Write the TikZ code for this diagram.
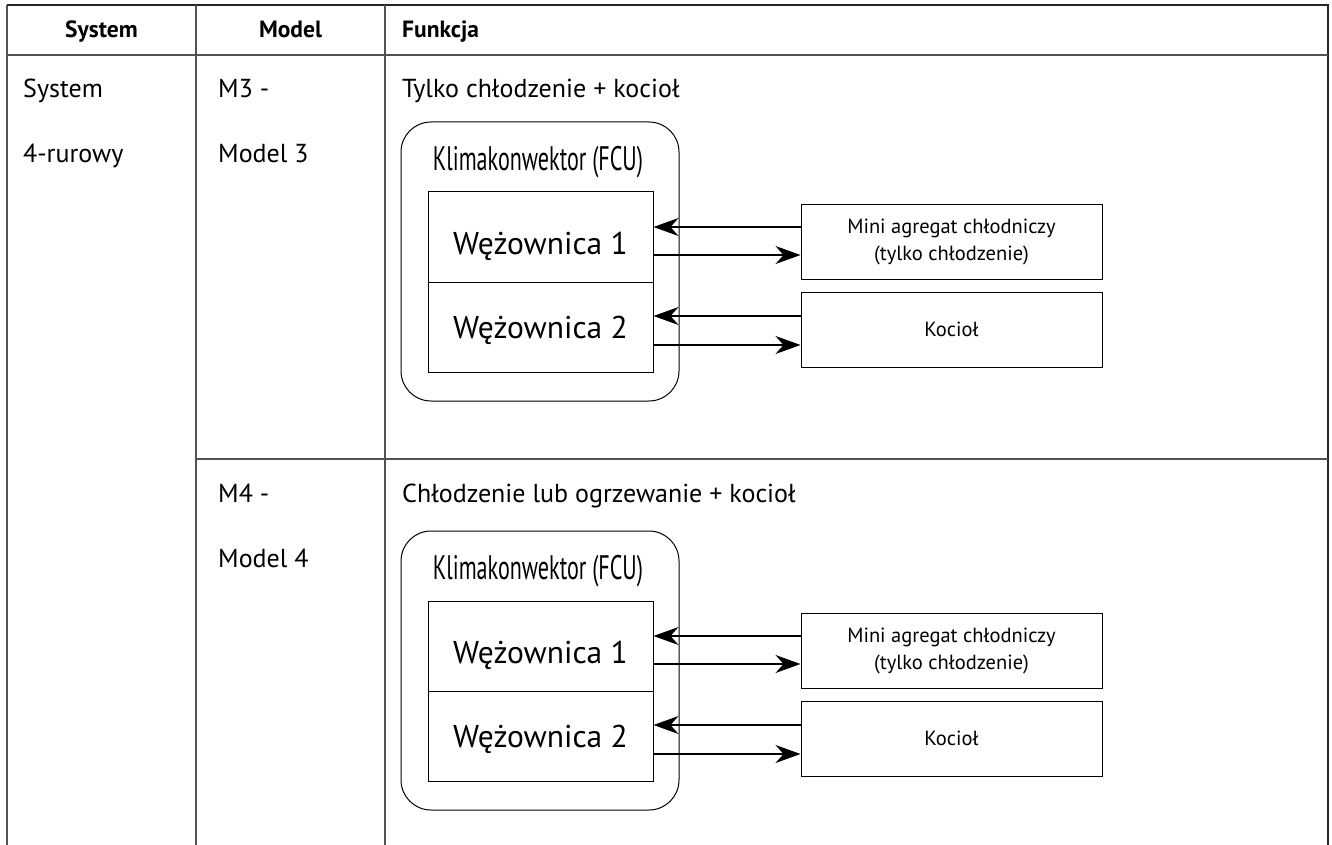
\documentclass[tikz,border=0pt]{standalone}
\usepackage{fontspec, graphicx}
\setmainfont{PT Sans}
\usetikzlibrary{arrows.meta}

\tikzset{
    grid/.style = {draw=black!68, line width=1.6pt},
    unit/.style = {draw, line width=1pt, inner sep=0pt},
    coil/.style = {unit, minimum width=225pt, minimum height=90pt, text depth=0pt, font=\fontsize{31.5}{32}\selectfont},
    pipe/.style = {line width=1.5pt, -{Stealth[length=25pt, width=18pt, inset=8pt]}},
    cell/.style = {anchor=base west, inner sep=0pt, font=\fontsize{26}{30}\selectfont},
    head/.style = {anchor=base, inner sep=0pt, font=\fontsize{23.5}{28}\selectfont\bfseries},
}

\begin{document}
\begin{tikzpicture}[x=1pt, y=-1pt]
    \useasboundingbox (0,0) rectangle (1332,845);
    % table
    \coordinate (TL) at (7,5);
    \coordinate (TR) at (1328,5);
    \draw [grid] (7,845) -- (TL);
    \draw [grid, draw=black!85] (TL) -- (TR) -- (1328,845);
    \draw [grid] (196,5) -- (196,845);
    \draw [grid] (385,5) -- (385,845);
    \draw [grid] (7,55) -- (1328,55);
    \draw [grid] (196,459) -- (1328,459);

    \node (hsys) at (101.5,38) [head] {System};
    \node (hmod) at (290.5,38) [head] {Model};
    \node (hfun) at (402,38) [head, anchor=base west] {Funkcja};

    \node (sys1) at (23,98) [cell] {System};
    \node (sys2) at (23,163) [cell] {4-rurowy};
    \node (m3a) at (218,98) [cell] {M3 -};
    \node (m3b) at (218,163) [cell] {Model 3};
    \node (f3) at (402,98) [cell] {Tylko chłodzenie + kocioł};
    \node (m4a) at (218,502) [cell] {M4 -};
    \node (m4b) at (218,567) [cell] {Model 4};
    \node (f4) at (402,502) [cell] {Chłodzenie lub ogrzewanie + kocioł};

    % both fan coil diagrams
    \foreach \dy/\n in {0/a, 409/b} {
        \begin{scope}[shift={(0,\dy)}]
            \node (fcu\n) at (540,261.5) [unit, rounded corners=30pt, minimum width=278pt, minimum height=279pt] {};
            \node (fcut\n) at (538,162) {\scalebox{0.65}[1]{\fontsize{34}{34}\selectfont Klimakonwektor (FCU)}};
            \node (coila\n) at (540.5,237) [coil, text height=34pt] {Wężownica 1};
            \node (coilb\n) at (540.5,327) [coil, text height=23pt] {Wężownica 2};
            \node (mini\n) at (951.5,241.5) [unit, minimum width=301pt, minimum height=75pt, align=center, font=\fontsize{20.5}{27}\selectfont] {Mini agregat chłodniczy\\(tylko chłodzenie)};
            \node (koc\n) at (951.5,329.5) [unit, minimum width=301pt, minimum height=75pt, font=\fontsize{20.5}{27}\selectfont] {Kocioł};
            \draw [pipe] (mini\n.west |- 0,227) -- (coila\n.east |- 0,227);
            \draw [pipe] (coila\n.east |- 0,255) -- (mini\n.west |- 0,255);
            \draw [pipe] (koc\n.west |- 0,316) -- (coilb\n.east |- 0,316);
            \draw [pipe] (coilb\n.east |- 0,345) -- (koc\n.west |- 0,345);
        \end{scope}
    }
\end{tikzpicture}
\end{document}
